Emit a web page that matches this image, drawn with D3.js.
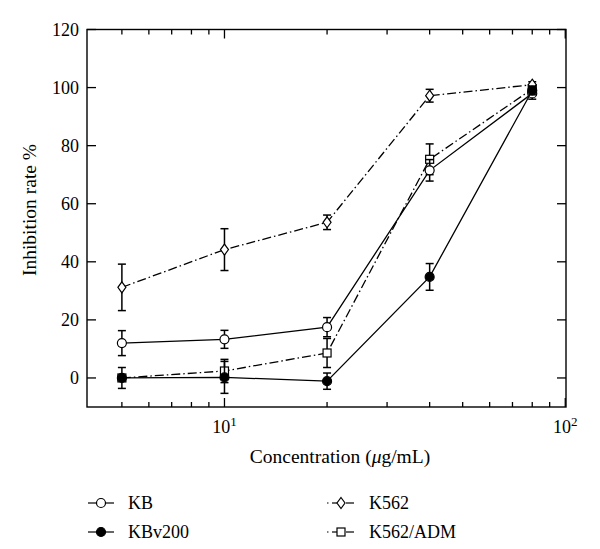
<!DOCTYPE html>
<html><head><meta charset="utf-8">
<script src="https://cdn.jsdelivr.net/npm/d3@7"></script>
<style>body{margin:0;background:#fff}svg{display:block}</style>
</head><body><svg id="c" width="600" height="549"></svg>
<script>
const concentrations = [5, 10, 20, 40, 80];
const kbValues     = [12.0, 13.3, 17.5, 71.5, 98.0];
const kbErrors     = [4.3, 3.1, 3.3, 3.7, 2.0];
const kbv200Values = [0.0, 0.2, -1.1, 34.8, 99.0];
const kbv200Errors = [3.6, 5.5, 2.8, 4.6, 1.5];
const k562Values   = [31.2, 44.2, 53.6, 97.2, 101.0];
const k562Errors   = [8.0, 7.2, 2.5, 2.2, 1.0];
const k562admValues = [0.0, 2.4, 8.6, 75.3, 99.5];
const k562admErrors = [1.0, 4.0, 5.0, 5.3, 1.5];
const seriesNames = ["KB", "KBv200", "K562", "K562/ADM"];
const yTickValues = [0, 20, 40, 60, 80, 100, 120];
const xMajorTicks = [10, 100];
const xMinorTicks = [5, 6, 7, 8, 9, 20, 30, 40, 50, 60, 70, 80, 90];

const svg = d3.select("#c");
const L = 87, R = 566, T = 29.5, B = 407;
const x = d3.scaleLog().domain([3.95, 100.5]).range([L, R]);
const y = d3.scaleLinear().domain([-10, 120]).range([B, T]);
const font = "'Liberation Serif', 'DejaVu Serif', serif";

const series = [
  {name: seriesNames[0], v: kbValues, e: kbErrors, marker: "circle", fill: "#fff", dash: null},
  {name: seriesNames[1], v: kbv200Values, e: kbv200Errors, marker: "circle", fill: "#000", dash: null},
  {name: seriesNames[2], v: k562Values, e: k562Errors, marker: "diamond", fill: "#fff", dash: "9,3,1.5,3"},
  {name: seriesNames[3], v: k562admValues, e: k562admErrors, marker: "square", fill: "#fff", dash: "9,3,1.5,3"}
];

// frame
svg.append("rect").attr("x", L).attr("y", T).attr("width", R - L).attr("height", B - T)
  .attr("fill", "none").attr("stroke", "#000").attr("stroke-width", 1.4);

// inward ticks on all four sides
const gTicks = svg.append("g").attr("stroke", "#000").attr("stroke-width", 1.3);
yTickValues.forEach(t => {
  gTicks.append("line").attr("x1", L).attr("x2", L + 9).attr("y1", y(t)).attr("y2", y(t));
  gTicks.append("line").attr("x1", R).attr("x2", R - 9).attr("y1", y(t)).attr("y2", y(t));
});
xMinorTicks.forEach(t => {
  gTicks.append("line").attr("x1", x(t)).attr("x2", x(t)).attr("y1", B).attr("y2", B - 5);
  gTicks.append("line").attr("x1", x(t)).attr("x2", x(t)).attr("y1", T).attr("y2", T + 5);
});
xMajorTicks.forEach(t => {
  gTicks.append("line").attr("x1", x(t)).attr("x2", x(t)).attr("y1", B).attr("y2", B - 9);
  gTicks.append("line").attr("x1", x(t)).attr("x2", x(t)).attr("y1", T).attr("y2", T + 9);
});

// y tick labels
svg.append("g").selectAll("text").data(yTickValues).join("text")
  .attr("x", L - 8).attr("y", d => y(d)).attr("dy", "0.35em")
  .attr("text-anchor", "end").attr("font-family", font).attr("font-size", 18)
  .text(d => d);

// x tick labels 10^1, 10^2
xMajorTicks.forEach(t => {
  const tx = svg.append("text").attr("x", x(t)).attr("y", 433)
    .attr("text-anchor", "middle").attr("font-family", font).attr("font-size", 18);
  tx.append("tspan").text("10");
  tx.append("tspan").attr("dy", -7).attr("font-size", 13).text(Math.round(Math.log10(t)));
});

// axis titles
const xt = svg.append("text").attr("x", 340).attr("y", 463).attr("text-anchor", "middle")
  .attr("font-family", font).attr("font-size", 19.5);
xt.append("tspan").text("Concentration (");
xt.append("tspan").attr("font-style", "italic").text("μ");
xt.append("tspan").text("g/mL)");
svg.append("text").attr("transform", "translate(36,210) rotate(-90)")
  .attr("text-anchor", "middle").attr("font-family", font).attr("font-size", 19.5)
  .text("Inhibition rate %");

function drawMarker(g, type, cx, cy, fill) {
  if (type === "circle") {
    g.append("circle").attr("cx", cx).attr("cy", cy).attr("r", 4.5)
      .attr("fill", fill).attr("stroke", "#000").attr("stroke-width", 1.2);
  } else if (type === "diamond") {
    g.append("path").attr("d", `M${cx},${cy - 5.5}L${cx + 4},${cy}L${cx},${cy + 5.5}L${cx - 4},${cy}Z`)
      .attr("fill", fill).attr("stroke", "#000").attr("stroke-width", 1.2);
  } else {
    g.append("rect").attr("x", cx - 4).attr("y", cy - 4).attr("width", 8).attr("height", 8)
      .attr("fill", fill).attr("stroke", "#000").attr("stroke-width", 1.2);
  }
}

const line = d3.line().x(d => x(d[0])).y(d => y(d[1]));
const gData = svg.append("g");
// draw order: K562/ADM, K562, KB, KBv200
[series[3], series[2], series[0], series[1]].forEach(s => {
  const pts = concentrations.map((c, i) => [c, s.v[i], s.e[i]]);
  gData.append("path").attr("d", line(pts)).attr("fill", "none").attr("stroke", "#000")
    .attr("stroke-width", 1.3).attr("stroke-dasharray", s.dash);
  pts.forEach(p => {
    const cx = x(p[0]), y1 = y(p[1] + p[2]), y2 = y(p[1] - p[2]);
    gData.append("line").attr("x1", cx).attr("x2", cx).attr("y1", y1).attr("y2", y2)
      .attr("stroke", "#000").attr("stroke-width", 1.5);
    [y1, y2].forEach(yy => gData.append("line").attr("x1", cx - 4).attr("x2", cx + 4)
      .attr("y1", yy).attr("y2", yy).attr("stroke", "#000").attr("stroke-width", 1.5));
  });
  pts.forEach(p => drawMarker(gData, s.marker, x(p[0]), y(p[1]), s.fill));
});

// legend
const legendPos = [[88, 503], [88, 532], [327, 503], [327, 532]];
series.forEach((s, i) => {
  const [lx, ly] = legendPos[i];
  const g = svg.append("g");
  if (s.dash) {
    g.append("line").attr("x1", lx).attr("x2", lx + 1.5).attr("y1", ly).attr("y2", ly).attr("stroke", "#000").attr("stroke-width", 1.2);
    g.append("line").attr("x1", lx + 5).attr("x2", lx + 10).attr("y1", ly).attr("y2", ly).attr("stroke", "#000").attr("stroke-width", 1.2);
    g.append("line").attr("x1", lx + 19).attr("x2", lx + 27).attr("y1", ly).attr("y2", ly).attr("stroke", "#000").attr("stroke-width", 1.2);
    drawMarker(g, s.marker, lx + 14, ly, s.fill);
  } else {
    g.append("line").attr("x1", lx).attr("x2", lx + 26).attr("y1", ly).attr("y2", ly).attr("stroke", "#000").attr("stroke-width", 1.2);
    drawMarker(g, s.marker, lx + 13, ly, s.fill);
  }
  g.append("text").attr("x", lx + (s.dash ? 42 : 40)).attr("y", ly).attr("dy", "0.35em")
    .attr("font-family", font).attr("font-size", 18).text(s.name);
});
</script></body></html>
